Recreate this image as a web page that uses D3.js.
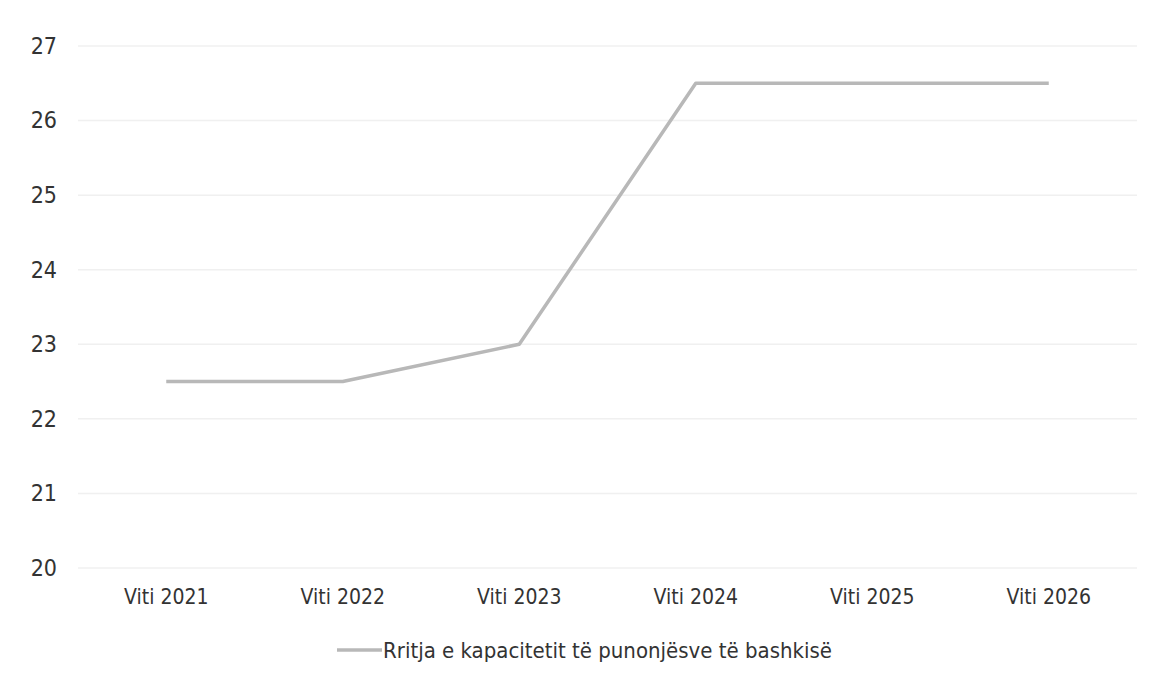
<!DOCTYPE html>
<html><head><meta charset="utf-8">
<script src="https://cdn.jsdelivr.net/npm/d3@7"></script>
<style>body{margin:0;background:#fff;} text{font-family:"DejaVu Sans Condensed","DejaVu Sans",sans-serif;}</style>
</head><body><svg id="c" width="1155" height="682"></svg>
<script>
const categories = ["Viti 2021","Viti 2022","Viti 2023","Viti 2024","Viti 2025","Viti 2026"];
const values = [22.5, 22.5, 23, 26.5, 26.5, 26.5];
const yTicks = [20,21,22,23,24,25,26,27];
const seriesName = "Rritja e kapacitetit të punonjësve të bashkisë";

const svg = d3.select("#c");
const x = d3.scaleBand().domain(categories).range([78, 1137]);
const y = d3.scaleLinear().domain([20, 27]).range([568, 46]);

svg.append("g").selectAll("line").data(yTicks).join("line")
  .attr("x1", 78).attr("x2", 1137)
  .attr("y1", d => y(d)).attr("y2", d => y(d))
  .attr("stroke", "#f0f0f0").attr("stroke-width", 1.5);

const yAxis = d3.axisLeft(y).tickValues(yTicks).tickFormat(d3.format("d")).tickSize(0).tickPadding(0);
const gy = svg.append("g").attr("transform", "translate(57,0)").call(yAxis);
gy.select(".domain").remove();
gy.selectAll("text").attr("font-size", 23).attr("fill", "#333").attr("font-family", "DejaVu Sans Condensed");

const xAxis = d3.axisBottom(x).tickSize(0).tickPadding(0);
const gx = svg.append("g").attr("transform", "translate(0,589)").call(xAxis);
gx.select(".domain").remove();
gx.selectAll("text").attr("font-size", 21).attr("fill", "#333").attr("font-family", "DejaVu Sans Condensed");

const line = d3.line().x((d,i) => x(categories[i]) + x.bandwidth()/2).y(d => y(d));
svg.append("path").datum(values).attr("d", line)
  .attr("fill", "none").attr("stroke", "#b8b8b8").attr("stroke-width", 3.5).attr("stroke-linejoin", "round");

const lg = svg.append("g").attr("transform", "translate(337,650)");
lg.append("line").attr("x1", 0).attr("x2", 45).attr("stroke", "#b8b8b8").attr("stroke-width", 3.5);
lg.append("text").attr("x", 46).attr("y", 8).attr("font-size", 22).attr("fill", "#333").text(seriesName);
</script></body></html>
